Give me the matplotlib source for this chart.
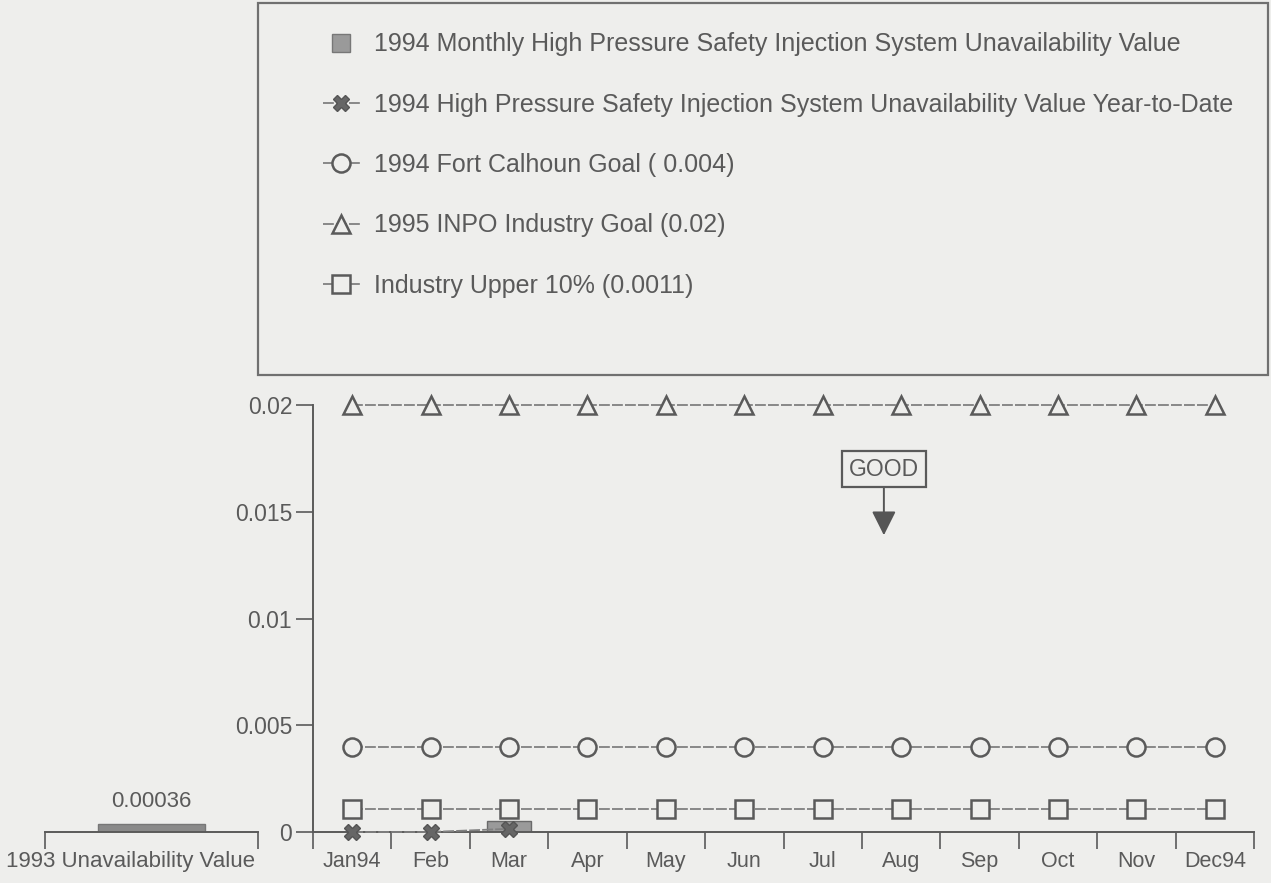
import numpy as np
import matplotlib
matplotlib.use("Agg")
import matplotlib.pyplot as plt
from matplotlib.lines import Line2D
from matplotlib.patches import Rectangle

# data
months = ["Jan94", "Feb", "Mar", "Apr", "May", "Jun", "Jul", "Aug", "Sep", "Oct", "Nov", "Dec94"]
monthly_1994 = [0.0, 0.0, 0.0005]
ytd_1994 = [0.0, 0.0, 0.00015]
fort_calhoun_goal = [0.004] * 12
inpo_goal = [0.02] * 12
industry_upper = [0.0011] * 12
value_1993 = 0.00036

labels = ["1994 Monthly High Pressure Safety Injection System Unavailability Value",
          "1994 High Pressure Safety Injection System Unavailability Value Year-to-Date",
          "1994 Fort Calhoun Goal ( 0.004)",
          "1995 INPO Industry Goal (0.02)",
          "Industry Upper 10% (0.0011)"]

bg = "#eeeeec"
ink = "#5a5a5a"
line_c = "#808080"

plt.rcParams["font.family"] = ["Liberation Sans", "DejaVu Sans"]
plt.rcParams["font.size"] = 15.5
plt.rcParams["text.color"] = ink
plt.rcParams["xtick.color"] = ink
plt.rcParams["ytick.color"] = ink
plt.rcParams["xtick.labelcolor"] = ink
plt.rcParams["ytick.labelcolor"] = ink

fig = plt.figure(figsize=(12.71, 8.83), dpi=100, facecolor=bg)

W, H = 1271.0, 883.0
bottom = (H - 832) / H
height = (832 - 405) / H

# main axes
ax = fig.add_axes([313 / W, bottom, 941 / W, height])
ax.set_facecolor("none")
x = np.arange(len(months))

ax.bar(x[:len(monthly_1994)], monthly_1994, width=0.55, color="#9a9a9a",
       edgecolor="#6a6a6a", linewidth=1, zorder=2)

mk = dict(markersize=13, markerfacecolor=bg, markeredgecolor=ink, markeredgewidth=1.8,
          color=line_c, linewidth=1.3, linestyle=(0, (6, 1.2)), clip_on=False, zorder=3)
l_inpo, = ax.plot(x, inpo_goal, marker="^", **mk)
l_fc, = ax.plot(x, fort_calhoun_goal, marker="o", **mk)
l_ind, = ax.plot(x, industry_upper, marker="s", **mk)
l_ytd, = ax.plot(x[:len(ytd_1994)], ytd_1994, marker="X", markersize=11,
                 markerfacecolor="#666666", markeredgecolor="#555555", color=line_c,
                 linewidth=1.3, linestyle=(0, (6, 1.2)), clip_on=False, zorder=4)

ax.set_xlim(-0.5, 11.5)
ax.set_ylim(0, 0.02)
ax.set_yticks([0, 0.005, 0.01, 0.015, 0.02])
ax.set_yticklabels(["0", "0.005", "0.01", "0.015", "0.02"], fontsize=16.5)
ax.set_xticks(x)
ax.set_xticklabels(months)
ax.set_xticks(np.arange(-0.5, 12, 1), minor=True)
ax.tick_params(axis="x", which="major", length=0, pad=14)
ax.tick_params(axis="x", which="minor", length=12, width=1.2, direction="out", color=ink)
ax.tick_params(axis="y", length=12, width=1.2, direction="out", color=ink, pad=3)
for s in ["top", "right"]:
    ax.spines[s].set_visible(False)
for s in ["left", "bottom"]:
    ax.spines[s].set_color(ink)
    ax.spines[s].set_linewidth(1.4)

ax.annotate("GOOD", xy=(6.78, 0.0139), xytext=(6.78, 0.0170), ha="center", va="center",
            fontsize=16.5,
            bbox=dict(boxstyle="square,pad=0.3", fc=bg, ec=ink, lw=1.6),
            arrowprops=dict(arrowstyle="-|>,head_length=0.9,head_width=0.45", color="#555555",
                            lw=1.4, shrinkA=0, shrinkB=0))

# 1993 axes on the left
ax0 = fig.add_axes([45 / W, bottom, 213 / W, height])
ax0.set_facecolor("none")
ax0.bar([0.5], [value_1993], width=0.5, color="#8a8a8a", edgecolor="#777777", zorder=2)
ax0.text(0.5, value_1993 + 0.0006, "0.00036", ha="center", va="bottom", fontsize=16)
ax0.set_xlim(0, 1)
ax0.set_ylim(0, 0.02)
ax0.set_yticks([])
ax0.set_xticks([0.4])
ax0.set_xticklabels(["1993 Unavailability Value"], fontsize=16)
ax0.set_xticks([0, 1], minor=True)
ax0.tick_params(axis="x", which="major", length=0, pad=14)
ax0.tick_params(axis="x", which="minor", length=12, width=1.2, direction="out", color=ink)
for s in ["top", "right", "left"]:
    ax0.spines[s].set_visible(False)
ax0.spines["bottom"].set_color(ink)
ax0.spines["bottom"].set_linewidth(1.4)

# legend box
fig.patches.append(Rectangle((258 / W, (H - 375) / H), 1010 / W, 372 / H,
                             transform=fig.transFigure, fill=False, ec="#707070", lw=1.6))
bar_proxy = Line2D([], [], marker="s", linestyle="none", markersize=13,
                   markerfacecolor="#9a9a9a", markeredgecolor="#777777")
fig.legend([bar_proxy, l_ytd, l_fc, l_inpo, l_ind], labels, loc="upper left",
           bbox_to_anchor=(310 / W, (H - 20) / H), frameon=False, borderpad=0,
           handlelength=1.5, handletextpad=0.55, labelspacing=1.45, fontsize=18)

fig.savefig("out.png", dpi=100, facecolor=bg)
